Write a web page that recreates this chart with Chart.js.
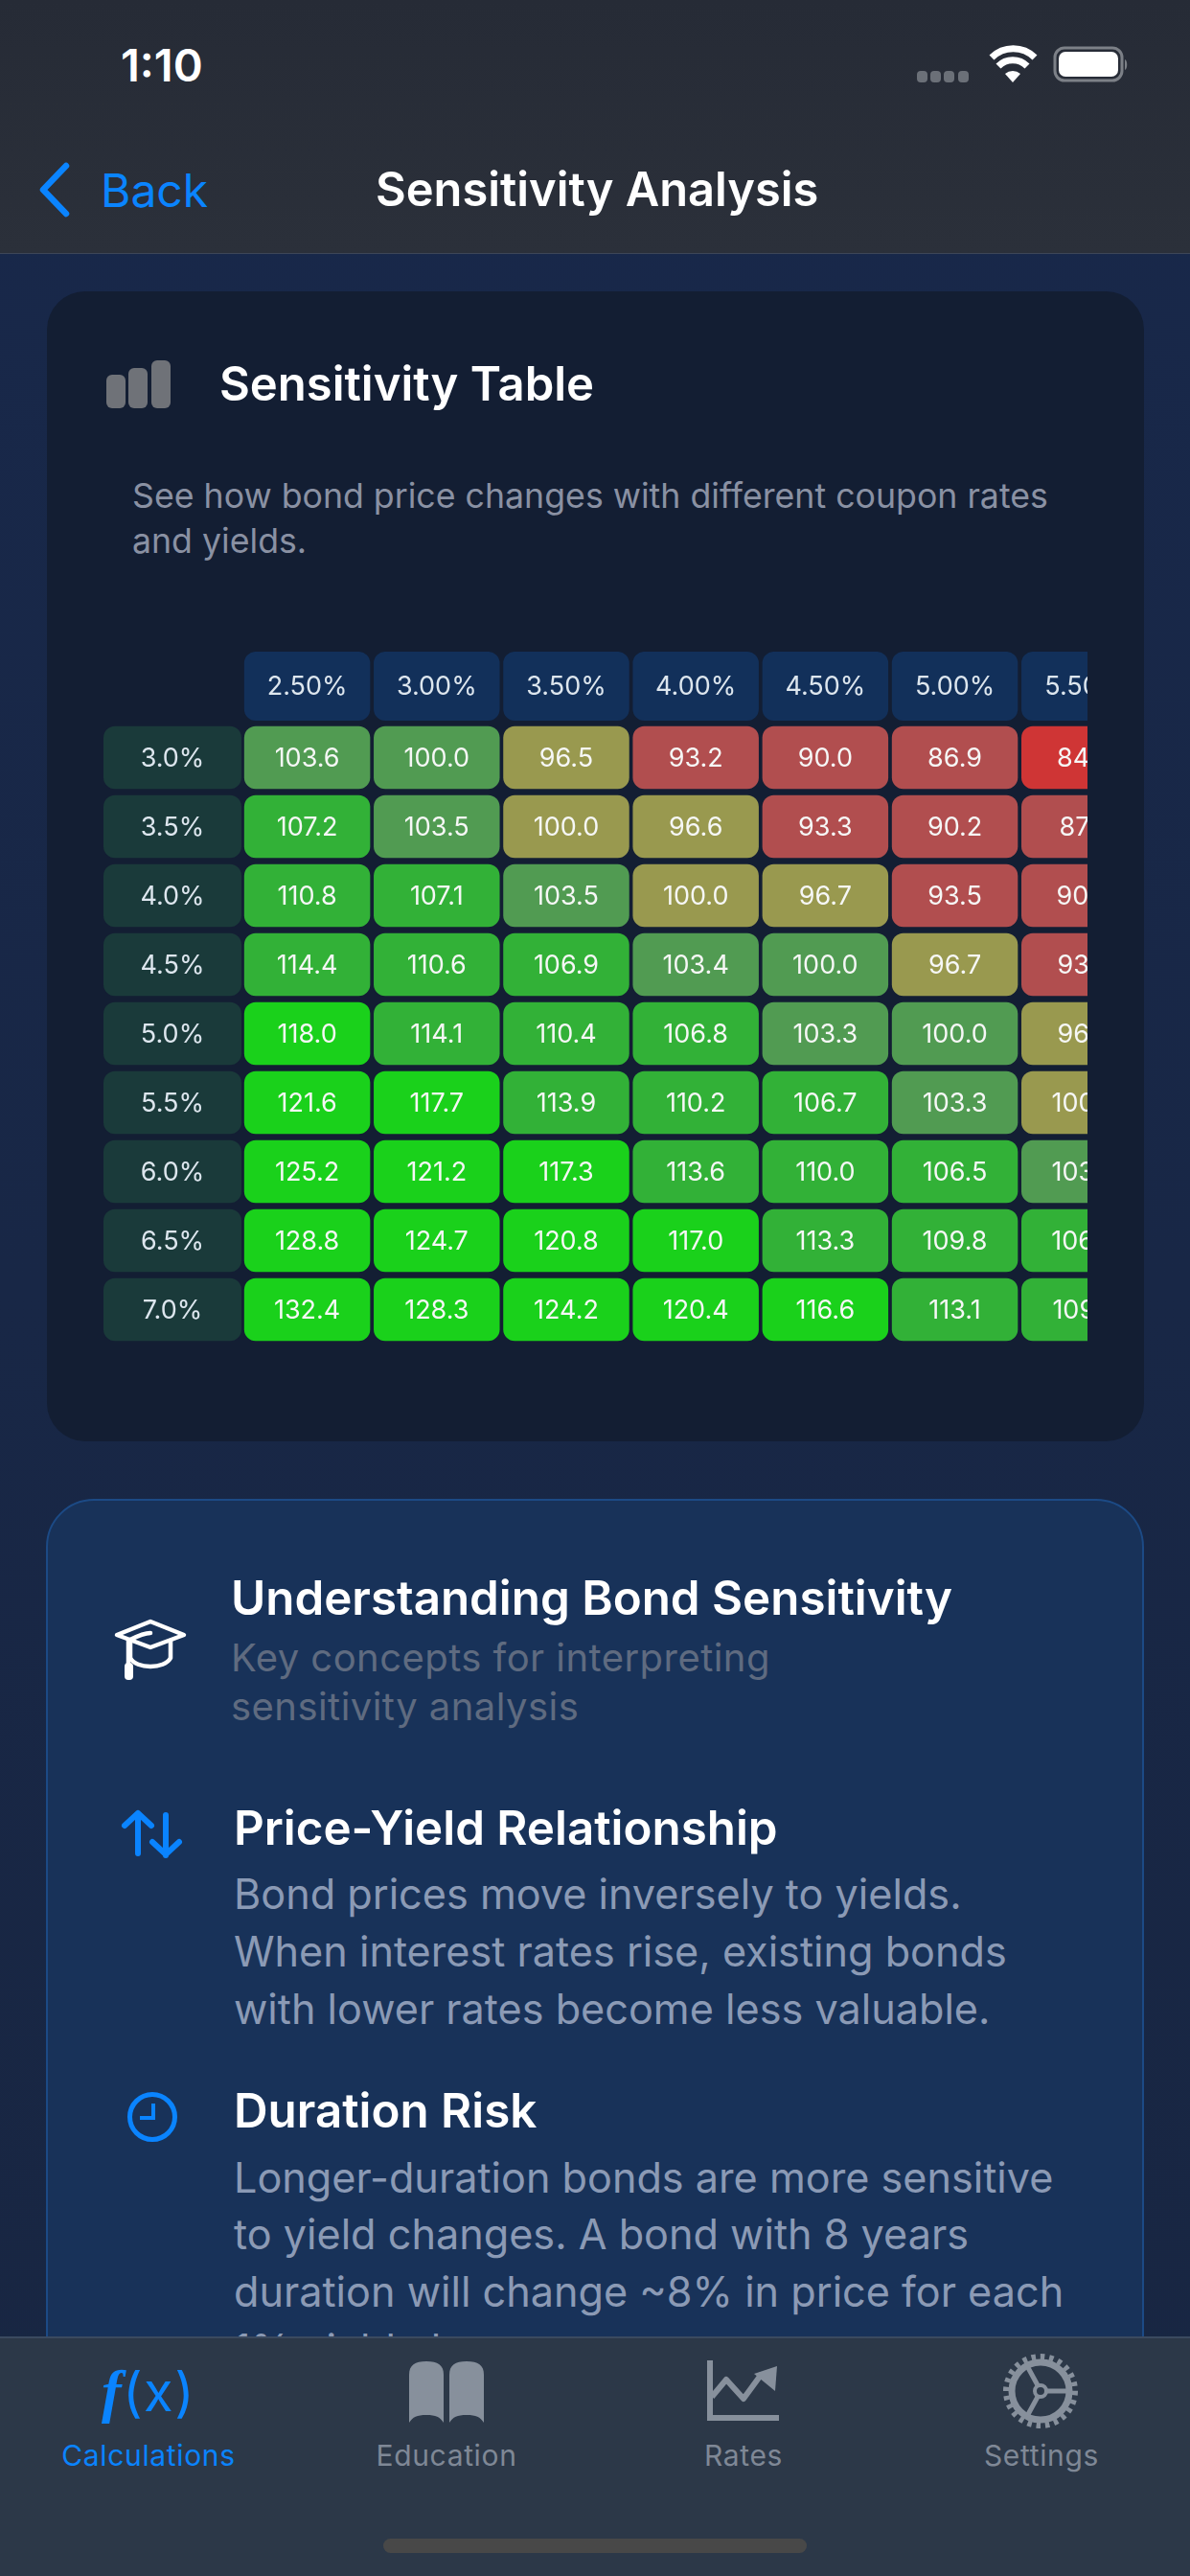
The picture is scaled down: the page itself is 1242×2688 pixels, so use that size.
<!DOCTYPE html>
<html lang="en">
<head>
<meta charset="UTF-8" />
<title>Sensitivity Analysis</title>
<script src="https://cdn.jsdelivr.net/npm/chart.js@4.4.3/dist/chart.umd.js"></script>
<style>
  *{box-sizing:border-box;margin:0;padding:0}
  html,body{width:1242px;height:2688px;overflow:hidden}
  body{position:relative;font-family:Inter,"Noto Sans",sans-serif;color:#fff;
       background:linear-gradient(180deg,#18284a,#182642)}
  .t{position:absolute;white-space:nowrap;line-height:1}
  .abs{position:absolute}
  #nav{position:absolute;left:0;top:0;width:1242px;height:265px;
       background:linear-gradient(180deg,#262b36,#2b303a);border-bottom:1px solid #3d4658}
  #card1{position:absolute;left:49px;top:304px;width:1145px;height:1200px;border-radius:40px;background:#131e33}
  #card2{position:absolute;left:48px;top:1564px;width:1146px;height:1000px;border-radius:50px;
         background:#183259;border:2px solid #1c4a85}
  #tabs{position:absolute;left:0;top:2438px;width:1242px;height:250px;
        background:#2c3848;border-top:2px solid #3b4a60}
  #home{position:absolute;left:400px;top:2649px;width:442px;height:15px;border-radius:8px;background:#484848}
  canvas{position:absolute;left:108px;top:680px}
  .h2{font-size:49.3px;font-weight:600}
  .sub{font-size:35.7px;color:#8a91a3}
  .faint{font-size:40px;color:#5f6b80;letter-spacing:.45px}
  .body{font-size:43.2px;color:#8b9ab5}
  .tab{font-size:30px;color:#7f8896;transform:translateX(-50%);letter-spacing:.65px}
</style>
</head>
<body>
  <div id="nav"></div>
  <div id="card1"></div>
  <div id="card2"></div>

  <div class="t" style="left:126px;top:44px;font-size:47px;font-weight:600">1:10</div>
  <svg class="abs" style="left:950px;top:40px" width="240" height="54" viewBox="0 0 240 54">
    <g fill="#6b7078"><rect x="7" y="34" width="11" height="12" rx="4"/><rect x="21" y="34" width="11" height="12" rx="4"/><rect x="35" y="34" width="11" height="12" rx="4"/><rect x="50" y="34" width="11" height="12" rx="4"/></g>
    <path d="M85 20a32 32 0 0 1 45 0" fill="none" stroke="#fff" stroke-width="7"/>
    <path d="M92 29a21 21 0 0 1 30 0" fill="none" stroke="#fff" stroke-width="7"/>
    <path d="M99 37a12 12 0 0 1 16 0l-8 9z" fill="#fff"/>
    <rect x="151" y="10" width="70" height="34" rx="10" fill="none" stroke="#7c8087" stroke-width="3"/>
    <rect x="155" y="14" width="62" height="26" rx="7" fill="#fff"/>
    <path d="M224 22c3 1 3 10 0 11z" fill="#7c8087"/>
  </svg>

  <svg class="abs" style="left:36px;top:165px" width="44" height="66" viewBox="0 0 44 66">
    <path d="M33 8L9 33l24 25" fill="none" stroke="#0a84ff" stroke-width="6.500" stroke-linecap="round" stroke-linejoin="round"/>
  </svg>
  <div class="t" style="left:105px;top:175px;font-size:48px;color:#0a84ff">Back</div>
  <div class="t" style="left:392px;top:174px;font-size:48.8px;font-weight:600">Sensitivity Analysis</div>

  <svg class="abs" style="left:110px;top:375px" width="70" height="52" viewBox="0 0 70 52">
    <g fill="#6f7278"><rect x="1" y="16" width="20" height="35" rx="6"/><rect x="24" y="9" width="20" height="42" rx="6"/><rect x="48" y="1" width="20" height="50" rx="6"/></g>
  </svg>
  <div class="t" style="left:229px;top:376px;font-size:49px;font-weight:600">Sensitivity Table</div>
  <div class="t sub" style="left:138px;top:500px">See how bond price changes with different coupon rates</div>
  <div class="t sub" style="left:138px;top:547px">and yields.</div>

  <canvas id="heat" width="1027" height="724"></canvas>

  <svg class="abs" style="left:118px;top:1689px" width="78" height="70" viewBox="0 0 78 70">
    <g fill="none" stroke="#fff" stroke-width="4.500" stroke-linecap="round" stroke-linejoin="round">
      <path d="M39 3L74 17 39 30 4 17z"/>
      <path d="M18 23v18c6 12 36 12 42 0V23"/>
      <path d="M39 15c-8 0-17 5-23 8v24"/>
    </g>
    <rect x="12" y="46" width="9" height="18" rx="4" fill="#fff"/>
  </svg>
  <div class="t h2" style="left:241px;top:1643px">Understanding Bond Sensitivity</div>
  <div class="t faint" style="left:241px;top:1710px">Key concepts for interpreting</div>
  <div class="t faint" style="left:241px;top:1761px">sensitivity analysis</div>

  <svg class="abs" style="left:126px;top:1888px" width="66" height="52" viewBox="0 0 66 52">
    <g fill="none" stroke="#0a84ff" stroke-width="6" stroke-linecap="round" stroke-linejoin="round">
      <path d="M18 46V4M4 17L18 4l14 13"/><path d="M47 6v42M33 34l14 13 14-13"/>
    </g>
  </svg>
  <div class="t h2" style="left:244px;top:1883px">Price-Yield Relationship</div>
  <div class="t body" style="left:244px;top:1955px">Bond prices move inversely to yields.</div>
  <div class="t body" style="left:244px;top:2015px">When interest rates rise, existing bonds</div>
  <div class="t body" style="left:244px;top:2075px">with lower rates become less valuable.</div>

  <svg class="abs" style="left:132px;top:2182px" width="54" height="54" viewBox="0 0 54 54">
    <circle cx="27" cy="27" r="23.500" fill="none" stroke="#0a84ff" stroke-width="5"/>
    <path d="M28 13v15H14" fill="none" stroke="#0a84ff" stroke-width="4"/>
  </svg>
  <div class="t h2" style="left:244px;top:2178px">Duration Risk</div>
  <div class="t body" style="left:244px;top:2251px">Longer-duration bonds are more sensitive</div>
  <div class="t body" style="left:244px;top:2310px">to yield changes. A bond with 8 years</div>
  <div class="t body" style="left:244px;top:2370px">duration will change ~8% in price for each</div>
  <div class="t body" style="left:244px;top:2430px">1% yield change.</div>

  <div id="tabs"></div>
  <div class="t" style="left:106px;top:2464px;font-size:56px;color:#0a84ff;font-weight:400;letter-spacing:1.5px"><i style="font-family:'Liberation Serif';font-weight:700;font-size:62px">f</i>(x)</div>
  <svg class="abs" style="left:424px;top:2462px" width="84" height="66" viewBox="0 0 84 66" fill="#87909c">
    <path d="M3 16C3 6 9 2 21 2s18 4 18 14v50c-4-6-8-8-18-8S7 60 3 66z"/>
    <path d="M81 16c0-10-6-14-18-14S45 6 45 16v50c4-6 8-8 18-8s14 2 18 8z"/>
  </svg>
  <svg class="abs" style="left:737px;top:2461px" width="78" height="68" viewBox="0 0 78 68">
    <g fill="none" stroke="#87909c" stroke-width="6">
      <path d="M4 2v60h72"/><path d="M6 40l15-18 18 20 19-26" stroke-linejoin="round"/>
    </g>
    <path d="M50 16L74 8 72 34z" fill="#87909c"/>
  </svg>
  <svg class="abs" style="left:1046px;top:2456px" width="80" height="78" viewBox="0 0 80 78">
    <g fill="none" stroke="#87909c">
      <circle cx="40" cy="39" r="30" stroke-width="7"/>
      <circle cx="40" cy="39" r="36" stroke-width="6" stroke-dasharray="4.500 4.900"/>
      <circle cx="40" cy="39" r="6" stroke-width="4"/>
      <path d="M46 39h26M37 33L25 11M37 45L25 67" stroke-width="5"/>
    </g>
  </svg>
  <div class="t tab" style="left:155px;top:2547px;color:#0a84ff">Calculations</div>
  <div class="t tab" style="left:466px;top:2547px">Education</div>
  <div class="t tab" style="left:776px;top:2547px">Rates</div>
  <div class="t tab" style="left:1087px;top:2547px">Settings</div>
  <div id="home"></div>

<script>
  // coupon rates across, yields down
  const couponRates = ['2.50%','3.00%','3.50%','4.00%','4.50%','5.00%','5.50%'];
  const yieldRates  = ['3.0%','3.5%','4.0%','4.5%','5.0%','5.5%','6.0%','6.5%','7.0%'];

  // one array per coupon column. 99.99 shows as 100.0 but falls in the yellow band
  const coupon250 = [103.6,107.2,110.8,114.4,118.0,121.6,125.2,128.8,132.4];
  const coupon300 = [100.0,103.5,107.1,110.6,114.1,117.7,121.2,124.7,128.3];
  const coupon350 = [96.5,99.99,103.5,106.9,110.4,113.9,117.3,120.8,124.2];
  const coupon400 = [93.2,96.6,99.99,103.4,106.8,110.2,113.6,117.0,120.4];
  const coupon450 = [90.0,93.3,96.7,100.0,103.3,106.7,110.0,113.3,116.6];
  const coupon500 = [86.9,90.2,93.5,96.7,100.0,103.3,106.5,109.8,113.1];
  const coupon550 = [84.0,87.3,90.4,93.6,96.8,99.99,103.2,106.4,109.7];
  const priceColumns = [coupon250,coupon300,coupon350,coupon400,coupon450,coupon500,coupon550];

  function cellColor(v){
    if(v>=115) return '#1ad11b';
    if(v>=105) return '#32b137';
    if(v>=100) return '#519b52';
    if(v>=95)  return '#99994f';
    if(v>=85)  return '#b14e4f';
    return '#cf3535';
  }

  const GAP = 0.0137;        // half gap between cells, in column units
  const HEADER_ROW = -1.035; // header sits a bit further up than a full row

  const datasets = priceColumns.map((col,i)=>({
    label: couponRates[i],
    data: col.map((v,r)=>({x:[i+GAP,i+1-GAP],y:r})),
    backgroundColor: col.map(cellColor),
    barThickness: 65.4
  }));
  datasets.push({
    label:'coupon header',
    data: couponRates.map((c,i)=>({x:[i+GAP,i+1-GAP],y:HEADER_ROW})),
    backgroundColor:'#12305a',
    barThickness: 72
  });
  datasets.push({
    label:'yield header',
    data: yieldRates.map((y,r)=>({x:[-1.0725,-0.0074],y:r})),
    backgroundColor:'#1a3a3a',
    barThickness: 65.4
  });

  const cellLabels = {
    id:'cellLabels',
    afterDatasetsDraw(chart){
      const {ctx,scales:{x,y}} = chart;
      ctx.save();
      ctx.textAlign='center';
      ctx.textBaseline='middle';
      ctx.font='400 27px Inter';
      ctx.fillStyle='#f6f7f6';
      priceColumns.forEach((col,i)=>col.forEach((v,r)=>{
        ctx.fillText(v.toFixed(1),x.getPixelForValue(i+.5),y.getPixelForValue(r)+1);
      }));
      ctx.fillStyle='#dde6ee';
      couponRates.forEach((c,i)=>ctx.fillText(c,x.getPixelForValue(i+.5),y.getPixelForValue(HEADER_ROW)+1));
      yieldRates.forEach((l,r)=>ctx.fillText(l,x.getPixelForValue(-.54),y.getPixelForValue(r)+1));
      ctx.restore();
    }
  };

  new Chart(document.getElementById('heat').getContext('2d'),{
    type:'bar',
    data:{datasets},
    options:{
      indexAxis:'y',
      responsive:false,
      devicePixelRatio:1,
      animation:false,
      grouped:false,
      borderRadius:12,
      borderSkipped:false,
      inflateAmount:0,
      layout:{padding:0},
      plugins:{legend:{display:false},tooltip:{enabled:false}},
      scales:{
        x:{type:'linear',display:false,min:-1.0725,max:6.524},
        y:{type:'linear',display:false,reverse:true,offset:false,min:-1.5347,max:8.5208}
      }
    },
    plugins:[cellLabels]
  });
</script>
</body>
</html>
